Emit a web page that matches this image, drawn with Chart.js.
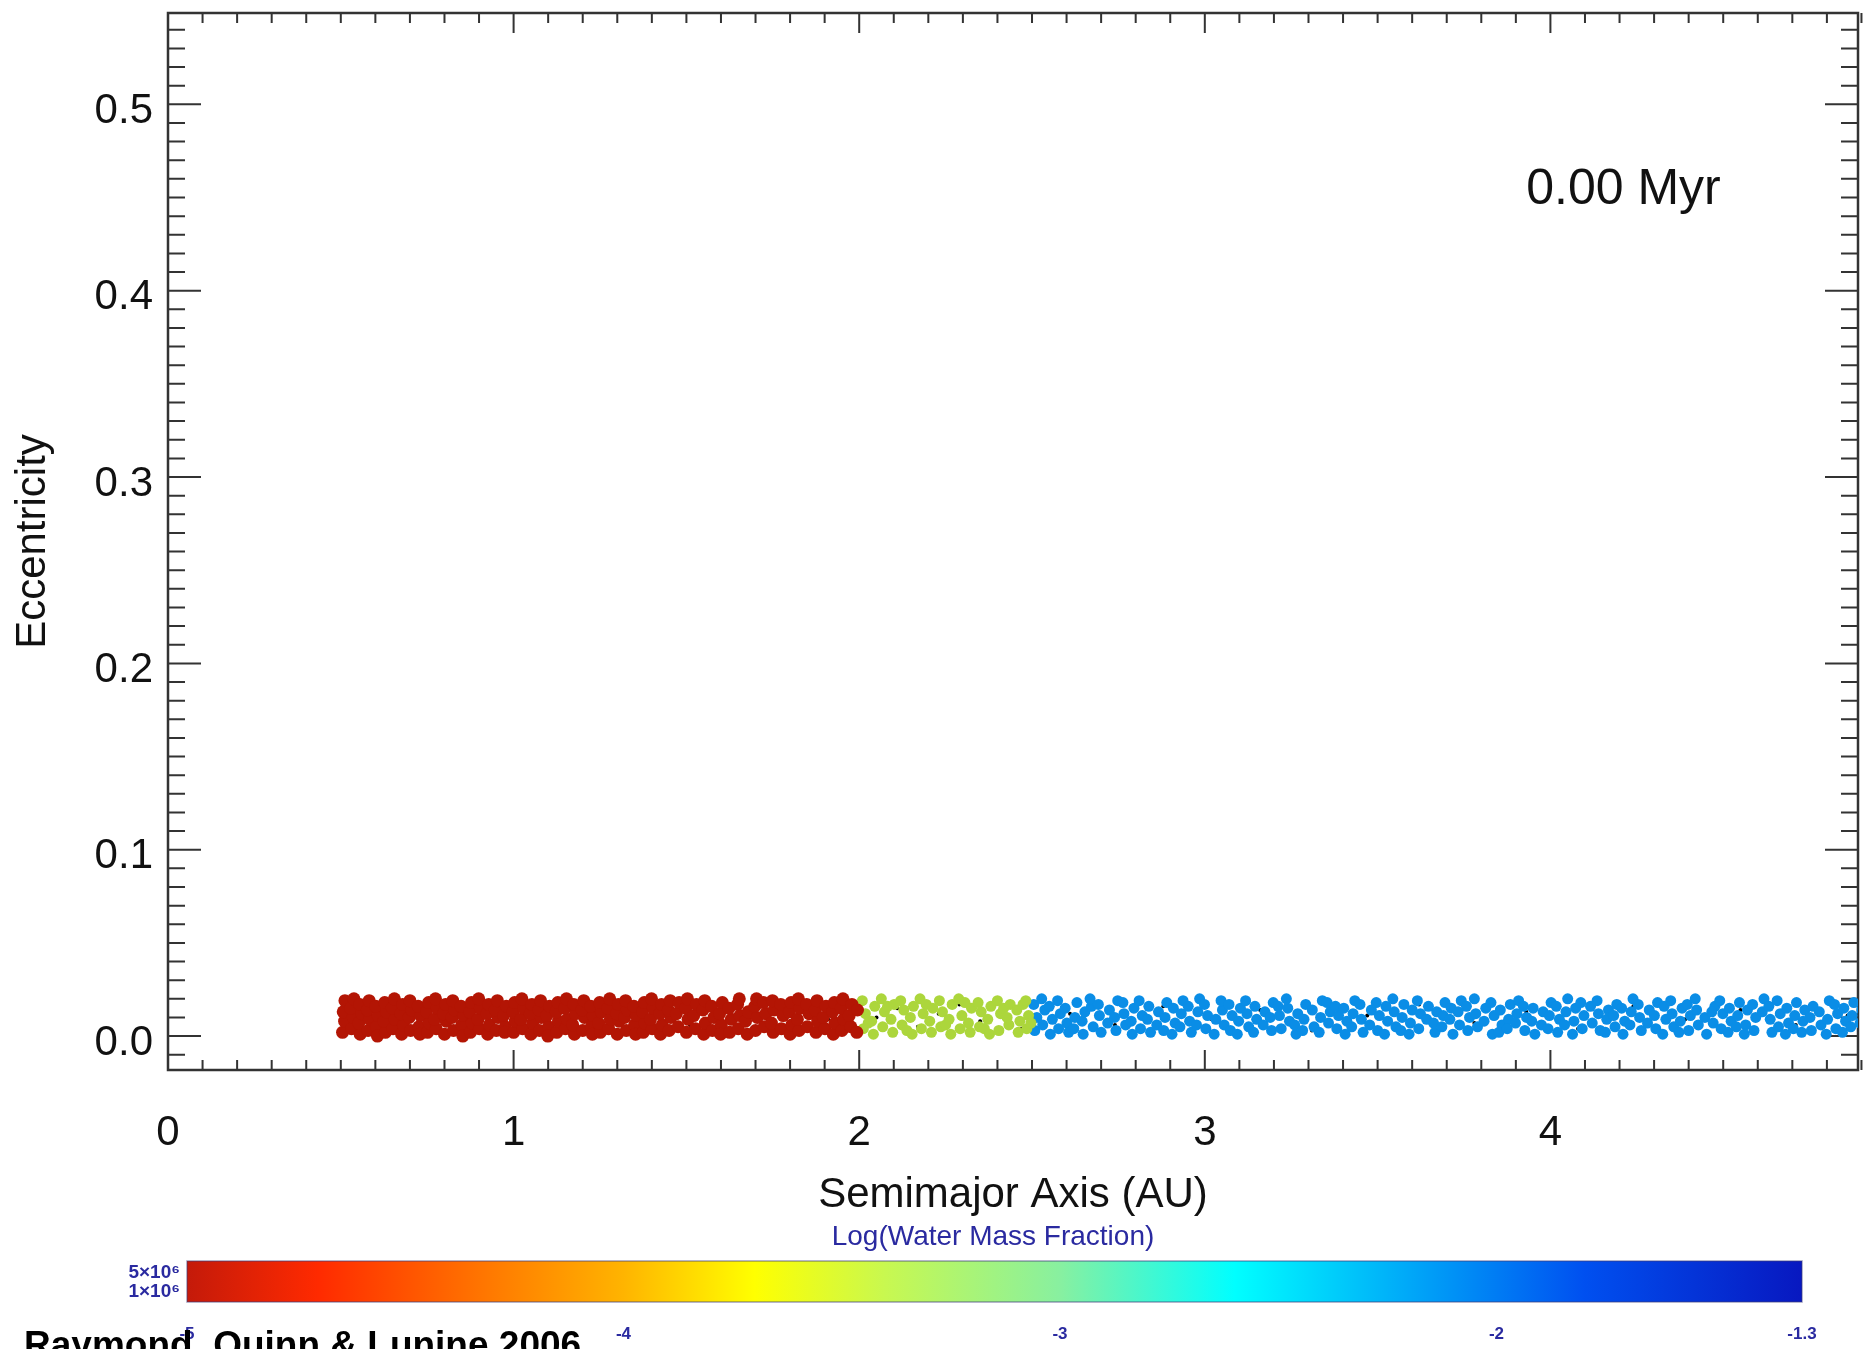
<!DOCTYPE html>
<html>
<head>
<meta charset="utf-8">
<title>Eccentricity vs Semimajor Axis</title>
<script src="https://cdn.jsdelivr.net/npm/chart.js@4.4.1/dist/chart.umd.min.js"></script>
<style>
  html, body { margin: 0; padding: 0; background: #fff; }
  canvas { display: block; }
</style>
</head>
<body>
<canvas id="myChart" width="1870" height="1349"></canvas>
<script>
// tick labels
var xTickValues = [0, 1, 2, 3, 4];
var yTickValues = [0.0, 0.1, 0.2, 0.3, 0.4, 0.5];

// planetesimals [semimajor axis (AU), eccentricity]
var redPoints = [
  [0.505,0.002],[0.511,0.008],[0.507,0.013],[0.512,0.019],[0.531,0.004],[0.536,0.010],[0.529,0.015],[0.538,0.020],
  [0.556,0.001],[0.552,0.007],[0.560,0.012],[0.555,0.017],[0.579,0.003],[0.584,0.009],[0.577,0.014],[0.582,0.019],
  [0.603,0.005],[0.608,0.011],[0.601,0.016],[0.606,0.000],[0.629,0.002],[0.625,0.008],[0.632,0.013],[0.627,0.018],
  [0.651,0.004],[0.657,0.009],[0.649,0.015],[0.655,0.020],[0.676,0.001],[0.681,0.006],[0.674,0.012],[0.679,0.017],
  [0.702,0.003],[0.698,0.010],[0.705,0.014],[0.700,0.019],[0.726,0.005],[0.731,0.011],[0.724,0.016],[0.729,0.001],
  [0.751,0.002],[0.756,0.007],[0.748,0.013],[0.754,0.018],[0.776,0.004],[0.771,0.009],[0.779,0.015],[0.774,0.020],
  [0.800,0.001],[0.805,0.008],[0.797,0.012],[0.803,0.017],[0.826,0.003],[0.822,0.010],[0.829,0.014],[0.824,0.019],
  [0.850,0.006],[0.855,0.011],[0.848,0.016],[0.853,0.000],[0.875,0.002],[0.880,0.007],[0.873,0.013],[0.878,0.018],
  [0.901,0.004],[0.897,0.009],[0.904,0.015],[0.899,0.020],[0.925,0.001],[0.930,0.006],[0.923,0.012],[0.928,0.017],
  [0.950,0.003],[0.955,0.010],[0.947,0.014],[0.953,0.019],[0.976,0.005],[0.971,0.011],[0.979,0.016],[0.974,0.002],
  [1.000,0.002],[1.005,0.008],[0.998,0.013],[1.003,0.018],[1.026,0.004],[1.021,0.009],[1.029,0.015],[1.024,0.020],
  [1.050,0.001],[1.055,0.007],[1.048,0.012],[1.053,0.017],[1.075,0.003],[1.080,0.010],[1.073,0.014],[1.078,0.019],
  [1.101,0.005],[1.096,0.011],[1.104,0.016],[1.099,0.000],[1.125,0.002],[1.130,0.008],[1.123,0.013],[1.128,0.018],
  [1.150,0.004],[1.155,0.009],[1.148,0.015],[1.153,0.020],[1.176,0.001],[1.171,0.006],[1.179,0.012],[1.174,0.017],
  [1.200,0.003],[1.205,0.010],[1.198,0.014],[1.203,0.019],[1.225,0.005],[1.230,0.011],[1.223,0.016],[1.228,0.001],
  [1.251,0.002],[1.246,0.007],[1.254,0.013],[1.249,0.018],[1.275,0.004],[1.280,0.009],[1.273,0.015],[1.278,0.020],
  [1.300,0.001],[1.305,0.008],[1.298,0.012],[1.303,0.017],[1.326,0.003],[1.321,0.010],[1.329,0.014],[1.324,0.019],
  [1.350,0.006],[1.355,0.011],[1.348,0.016],[1.353,0.001],[1.375,0.002],[1.380,0.007],[1.373,0.013],[1.378,0.018],
  [1.401,0.004],[1.396,0.009],[1.404,0.015],[1.399,0.020],[1.425,0.001],[1.430,0.006],[1.423,0.012],[1.428,0.017],
  [1.450,0.003],[1.455,0.010],[1.448,0.014],[1.453,0.019],[1.476,0.005],[1.471,0.012],[1.479,0.018],
  [1.500,0.002],[1.505,0.009],[1.498,0.015],[1.503,0.020],[1.526,0.004],[1.521,0.011],[1.529,0.017],
  [1.550,0.001],[1.555,0.007],[1.548,0.014],[1.553,0.019],[1.575,0.003],[1.580,0.010],[1.573,0.016],
  [1.601,0.006],[1.596,0.012],[1.604,0.018],[1.599,0.001],[1.625,0.002],[1.630,0.009],[1.623,0.015],
  [1.650,0.004],[1.655,0.011],[1.648,0.017],[1.653,0.020],[1.676,0.001],[1.671,0.008],[1.679,0.013],
  [1.700,0.003],[1.705,0.010],[1.698,0.016],[1.703,0.020],[1.725,0.005],[1.730,0.012],[1.723,0.018],
  [1.751,0.002],[1.746,0.007],[1.754,0.014],[1.749,0.019],[1.775,0.004],[1.780,0.011],[1.773,0.017],
  [1.800,0.001],[1.805,0.006],[1.798,0.013],[1.803,0.018],[1.826,0.003],[1.821,0.009],[1.829,0.015],[1.824,0.020],
  [1.850,0.005],[1.855,0.012],[1.848,0.017],[1.875,0.002],[1.880,0.008],[1.873,0.014],[1.878,0.019],
  [1.901,0.004],[1.896,0.010],[1.904,0.016],[1.925,0.001],[1.930,0.007],[1.923,0.013],[1.928,0.018],
  [1.950,0.003],[1.955,0.009],[1.948,0.015],[1.953,0.020],[1.976,0.005],[1.971,0.011],[1.979,0.017],
  [1.993,0.002],[1.995,0.014]
];

var greenPoints = [
  [2.012,0.004],[2.018,0.012],[2.009,0.019],[2.026,0.007],[2.041,0.001],[2.036,0.008],[2.045,0.016],
  [2.068,0.005],[2.073,0.013],[2.064,0.020],[2.082,0.016],[2.097,0.002],[2.092,0.009],[2.101,0.017],
  [2.124,0.006],[2.129,0.014],[2.120,0.019],[2.138,0.003],[2.153,0.001],[2.148,0.010],[2.157,0.016],
  [2.180,0.004],[2.185,0.012],[2.176,0.020],[2.194,0.017],[2.209,0.002],[2.204,0.008],[2.213,0.015],
  [2.236,0.005],[2.241,0.013],[2.232,0.019],[2.250,0.006],[2.265,0.001],[2.260,0.009],[2.269,0.017],
  [2.292,0.004],[2.297,0.011],[2.288,0.020],[2.306,0.018],[2.321,0.002],[2.316,0.007],[2.325,0.015],
  [2.348,0.005],[2.353,0.013],[2.344,0.018],[2.362,0.004],[2.377,0.001],[2.372,0.009],[2.381,0.016],
  [2.404,0.003],[2.409,0.012],[2.400,0.019],[2.418,0.015],[2.433,0.006],[2.428,0.010],[2.437,0.017],
  [2.460,0.002],[2.465,0.008],[2.456,0.014],[2.474,0.017],[2.485,0.004],[2.490,0.011],[2.482,0.019],
  [2.497,0.007]
];

var bluePoints = [
  [2.508,0.003],[2.514,0.010],[2.505,0.017],[2.531,0.006],[2.537,0.014],[2.528,0.020],[2.553,0.001],[2.559,0.009],
  [2.550,0.016],[2.577,0.004],[2.582,0.012],[2.574,0.019],[2.601,0.007],[2.596,0.015],[2.606,0.002],[2.624,0.010],
  [2.630,0.018],[2.621,0.004],[2.648,0.001],[2.653,0.013],[2.645,0.008],[2.672,0.016],[2.677,0.005],[2.668,0.020],
  [2.695,0.011],[2.700,0.002],[2.692,0.017],[2.719,0.007],[2.724,0.014],[2.743,0.003],[2.748,0.019],[2.739,0.010],
  [2.766,0.012],[2.771,0.006],[2.763,0.018],[2.790,0.001],[2.795,0.015],[2.787,0.008],[2.814,0.004],[2.819,0.011],
  [2.810,0.019],[2.838,0.016],[2.843,0.002],[2.834,0.009],[2.861,0.006],[2.866,0.013],[2.885,0.010],[2.890,0.018],
  [2.881,0.003],[2.909,0.015],[2.914,0.007],[2.905,0.001],[2.932,0.012],[2.937,0.019],[2.928,0.005],[2.956,0.008],
  [2.961,0.002],[2.952,0.016],[2.980,0.013],[2.985,0.020],[2.976,0.006],[3.003,0.004],[3.008,0.011],[2.999,0.017],
  [3.027,0.001],[3.032,0.009],[3.051,0.014],[3.056,0.006],[3.047,0.019],[3.074,0.003],[3.079,0.011],[3.070,0.017],
  [3.098,0.008],[3.103,0.015],[3.094,0.001],[3.122,0.012],[3.127,0.005],[3.118,0.019],[3.145,0.016],[3.150,0.009],
  [3.141,0.002],[3.169,0.006],[3.174,0.013],[3.193,0.003],[3.198,0.018],[3.189,0.010],[3.216,0.011],[3.221,0.004],
  [3.212,0.016],[3.240,0.015],[3.245,0.008],[3.236,0.020],[3.264,0.001],[3.269,0.012],[3.260,0.006],[3.287,0.009],
  [3.292,0.017],[3.283,0.003],[3.311,0.014],[3.316,0.005],[3.335,0.010],[3.340,0.019],[3.331,0.002],[3.358,0.007],
  [3.363,0.013],[3.354,0.018],[3.382,0.004],[3.387,0.011],[3.378,0.016],[3.406,0.001],[3.411,0.008],[3.402,0.015],
  [3.429,0.012],[3.434,0.019],[3.425,0.005],[3.453,0.009],[3.458,0.002],[3.449,0.017],[3.477,0.006],[3.482,0.014],
  [3.500,0.003],[3.505,0.011],[3.496,0.018],[3.524,0.016],[3.529,0.008],[3.520,0.001],[3.548,0.013],[3.553,0.005],
  [3.544,0.020],[3.571,0.010],[3.576,0.017],[3.567,0.003],[3.595,0.007],[3.600,0.014],[3.591,0.001],[3.619,0.004],
  [3.624,0.012],[3.615,0.019],[3.642,0.009],[3.647,0.016],[3.666,0.002],[3.671,0.013],[3.662,0.007],[3.690,0.011],
  [3.695,0.018],[3.686,0.005],[3.713,0.015],[3.718,0.001],[3.709,0.009],[3.737,0.006],[3.742,0.019],[3.733,0.013],
  [3.761,0.003],[3.766,0.010],[3.757,0.016],[3.784,0.012],[3.789,0.005],[3.780,0.020],[3.808,0.008],[3.813,0.015],
  [3.832,0.001],[3.837,0.011],[3.828,0.018],[3.855,0.014],[3.860,0.006],[3.851,0.002],[3.879,0.009],[3.884,0.017],
  [3.875,0.004],[3.903,0.012],[3.908,0.019],[3.899,0.007],[3.926,0.003],[3.931,0.010],[3.922,0.016],[3.950,0.015],
  [3.955,0.001],[3.946,0.008],[3.974,0.006],[3.979,0.013],[3.997,0.011],[4.002,0.018],[3.993,0.004],[4.021,0.002],
  [4.026,0.009],[4.017,0.016],[4.045,0.013],[4.050,0.020],[4.041,0.006],[4.068,0.008],[4.073,0.015],[4.064,0.001],
  [4.092,0.004],[4.097,0.011],[4.088,0.018],[4.116,0.016],[4.121,0.007],[4.139,0.012],[4.144,0.003],[4.135,0.019],
  [4.163,0.009],[4.168,0.014],[4.159,0.002],[4.187,0.005],[4.192,0.017],[4.183,0.011],[4.210,0.001],[4.215,0.008],
  [4.206,0.015],[4.234,0.013],[4.239,0.020],[4.230,0.006],[4.258,0.010],[4.263,0.003],[4.254,0.017],[4.281,0.007],
  [4.286,0.014],[4.305,0.004],[4.310,0.018],[4.301,0.011],[4.329,0.016],[4.334,0.009],[4.325,0.001],[4.352,0.012],
  [4.357,0.005],[4.348,0.019],[4.376,0.008],[4.381,0.015],[4.372,0.002],[4.400,0.003],[4.405,0.011],[4.396,0.017],
  [4.423,0.014],[4.428,0.006],[4.419,0.020],[4.447,0.010],[4.452,0.001],[4.471,0.007],[4.476,0.016],[4.467,0.013],
  [4.494,0.004],[4.499,0.012],[4.490,0.019],[4.518,0.015],[4.523,0.008],[4.514,0.002],[4.542,0.011],[4.547,0.018],
  [4.538,0.005],[4.565,0.006],[4.570,0.014],[4.561,0.001],[4.589,0.003],[4.594,0.010],[4.585,0.017],[4.613,0.013],
  [4.618,0.020],[4.636,0.009],[4.641,0.002],[4.632,0.016],[4.660,0.005],[4.665,0.012],[4.656,0.019],[4.684,0.015],
  [4.689,0.007],[4.680,0.001],[4.707,0.011],[4.712,0.018],[4.703,0.004],[4.731,0.008],[4.736,0.014],[4.727,0.002],
  [4.755,0.003],[4.760,0.016],[4.751,0.010],[4.778,0.013],[4.783,0.006],[4.802,0.009],[4.807,0.019],[4.798,0.001],
  [4.826,0.004],[4.831,0.012],[4.822,0.017],[4.849,0.015],[4.854,0.008],[4.845,0.002],[4.873,0.011],[4.878,0.018],
  [4.869,0.005],[4.896,0.007],[4.901,0.014]
];

// small black markers scattered through the disk
var blackDots = [
  [0.62,0.011],[0.71,0.004],[0.83,0.016],[0.95,0.008],[1.04,0.013],[1.12,0.003],[1.21,0.018],[1.33,0.009],
  [1.42,0.014],[1.51,0.006],[1.58,0.017],[1.66,0.011],[1.74,0.004],[1.83,0.015],[1.91,0.009],[1.97,0.019],
  [2.05,0.010],[2.11,0.015],[2.17,0.005],[2.23,0.012],[2.29,0.017],[2.35,0.008],[2.41,0.013],[2.47,0.004],
  [2.61,0.012],[2.74,0.006],[2.88,0.016],[3.02,0.009],[3.16,0.014],[3.31,0.003],[3.47,0.011],[3.62,0.017],
  [3.78,0.007],[3.93,0.013],[4.08,0.004],[4.24,0.016],[4.39,0.009],[4.55,0.014],[4.71,0.006],[4.86,0.011]
];

// colour bar: log water mass fraction
var cbValues = [-5.0, -4.7, -4.3, -4.0, -3.7, -3.4, -3.0, -2.6, -2.2, -1.8, -1.3];
var cbColors = ['#c41a0a', '#ff2a00', '#ff7a00', '#ffb400', '#ffff00', '#c8f850', '#88f0a0',
                '#00ffff', '#00a8f8', '#0050f0', '#0818c0'];
var cbTicks = [-5, -4, -3, -2, -1.3];

Chart.defaults.font.family = "'Liberation Sans', Arial, Helvetica, sans-serif";
Chart.defaults.color = '#111';

function toXY(list) {
  return list.map(function (p) { return {x: p[0], y: p[1]}; });
}

var frameTicks = {
  id: 'frameTicks',
  beforeDatasetsDraw: function (chart) {
    var ctx = chart.ctx, a = chart.chartArea;
    var xs = chart.scales.x, ys = chart.scales.y;
    ctx.save();
    ctx.strokeStyle = '#333';
    ctx.lineWidth = 2.5;
    ctx.strokeRect(a.left, a.top, a.right - a.left, a.bottom - a.top);
    ctx.lineWidth = 2;
    ctx.beginPath();
    for (var i = 1; i <= 49; i++) {
      var px = xs.getPixelForValue(i / 10);
      var len = (i % 10 === 0) ? 20 : 10;
      ctx.moveTo(px, a.bottom); ctx.lineTo(px, a.bottom - len);
      ctx.moveTo(px, a.top); ctx.lineTo(px, a.top + len);
    }
    for (var j = -1; j <= 54; j++) {
      var py = ys.getPixelForValue(j / 100);
      var l2 = (j % 10 === 0) ? 33 : 17;
      ctx.moveTo(a.left, py); ctx.lineTo(a.left + l2, py);
      ctx.moveTo(a.right, py); ctx.lineTo(a.right - l2, py);
    }
    ctx.stroke();
    ctx.restore();
  },
  afterDraw: function (chart) {
    var ctx = chart.ctx;
    var xs = chart.scales.x, ys = chart.scales.y;
    ctx.save();
    // time stamp
    ctx.fillStyle = '#111';
    ctx.font = "50px 'Liberation Sans', Arial, sans-serif";
    ctx.textAlign = 'left';
    ctx.textBaseline = 'middle';
    ctx.fillText('0.00 Myr', xs.getPixelForValue(3.93), ys.getPixelForValue(0.454));

    // colour bar
    var L = 187, R = 1802, T = 1261, B = 1302;
    var vmin = cbValues[0], vmax = cbValues[cbValues.length - 1];
    var g = ctx.createLinearGradient(L, 0, R, 0);
    cbValues.forEach(function (v, k) { g.addColorStop((v - vmin) / (vmax - vmin), cbColors[k]); });
    ctx.fillStyle = g;
    ctx.fillRect(L, T, R - L, B - T);
    ctx.strokeStyle = 'rgba(60,60,120,0.5)';
    ctx.lineWidth = 1.5;
    ctx.strokeRect(L, T, R - L, B - T);

    ctx.fillStyle = '#2a2aa0';
    ctx.font = "28px 'Liberation Sans Narrow', 'Liberation Sans', Arial, sans-serif";
    ctx.textAlign = 'center';
    ctx.textBaseline = 'middle';
    ctx.fillText('Log(Water Mass Fraction)', 993, 1237);

    ctx.font = "bold 17px 'Liberation Sans Narrow', 'Liberation Sans', Arial, sans-serif";
    cbTicks.forEach(function (v) {
      var px = L + (v - vmin) / (vmax - vmin) * (R - L);
      ctx.fillText(String(v), px, 1334);
    });
    ctx.textAlign = 'right';
    ctx.font = "bold 19px 'Liberation Sans Narrow', 'Liberation Sans', Arial, sans-serif";
    ctx.fillText('5\u00d710\u2076', 180, 1273);
    ctx.fillText('1\u00d710\u2076', 180, 1292);

    ctx.fillStyle = '#000';
    ctx.textAlign = 'left';
    ctx.textBaseline = 'top';
    ctx.font = "bold 37px 'Liberation Sans', Arial, sans-serif";
    ctx.fillText('Raymond, Quinn & Lunine 2006', 24, 1328);
    ctx.restore();
  }
};

new Chart('myChart', {
  type: 'scatter',
  data: {
    datasets: [
      {data: toXY(redPoints), backgroundColor: '#b31504', borderWidth: 0, pointRadius: 6.5},
      {data: toXY(greenPoints), backgroundColor: '#acd63c', borderWidth: 0, pointRadius: 5.5},
      {data: toXY(bluePoints), backgroundColor: '#0a8de6', borderWidth: 0, pointRadius: 5.5},
      {data: toXY(blackDots), backgroundColor: '#000', borderWidth: 0, pointRadius: 2}
    ]
  },
  options: {
    responsive: false,
    animation: false,
    events: [],
    layout: {padding: {top: 13, right: 12, left: 0, bottom: 0}},
    plugins: {legend: {display: false}, tooltip: {enabled: false}},
    scales: {
      x: {
        type: 'linear',
        min: 0,
        max: 4.89,
        afterBuildTicks: function (s) { s.ticks = xTickValues.map(function (v) { return {value: v}; }); },
        afterFit: function (s) { s.height = 279; s.paddingLeft = 0; s.paddingRight = 0; },
        grid: {display: false, drawTicks: false},
        border: {display: false},
        ticks: {padding: 38, font: {size: 42}, color: '#111', callback: function (v) { return String(v); }},
        title: {display: true, text: 'Semimajor Axis (AU)', font: {size: 42}, color: '#111', padding: {top: 0, bottom: 128}}
      },
      y: {
        type: 'linear',
        min: -0.0182,
        max: 0.549,
        afterBuildTicks: function (s) { s.ticks = yTickValues.map(function (v) { return {value: v}; }); },
        afterFit: function (s) { s.width = 168; s.paddingTop = 0; s.paddingBottom = 0; },
        grid: {display: false, drawTicks: false},
        border: {display: false},
        ticks: {padding: 15, labelOffset: 7, font: {size: 42}, color: '#111', callback: function (v) { return v.toFixed(1); }},
        title: {display: true, text: 'Eccentricity', font: {size: 42}, color: '#111', padding: {top: 8, bottom: 0}}
      }
    }
  },
  plugins: [frameTicks]
});
</script>
</body>
</html>
